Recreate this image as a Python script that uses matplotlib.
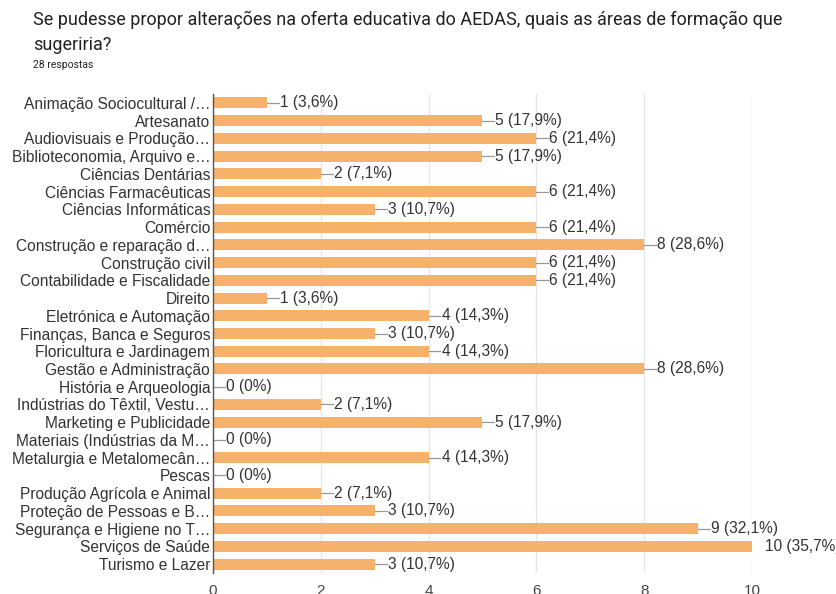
import matplotlib
matplotlib.use("Agg")
import matplotlib.pyplot as plt

categories = [
    "Animação Sociocultural /…", "Artesanato", "Audiovisuais e Produção…",
    "Biblioteconomia, Arquivo e…", "Ciências Dentárias", "Ciências Farmacêuticas",
    "Ciências Informáticas", "Comércio", "Construção e reparação d…",
    "Construção civil", "Contabilidade e Fiscalidade", "Direito",
    "Eletrónica e Automação", "Finanças, Banca e Seguros", "Floricultura e Jardinagem",
    "Gestão e Administração", "História e Arqueologia", "Indústrias do Têxtil, Vestu…",
    "Marketing e Publicidade", "Materiais (Indústrias da M…", "Metalurgia e Metalomecân…",
    "Pescas", "Produção Agrícola e Animal", "Proteção de Pessoas e B…",
    "Segurança e Higiene no T…", "Serviços de Saúde", "Turismo e Lazer",
]
values = [1, 5, 6, 5, 2, 6, 3, 6, 8, 6, 6, 1, 4, 3, 4, 8, 0, 2, 5, 0, 4, 0, 2, 3, 9, 10, 3]
percents = ["3,6%", "17,9%", "21,4%", "17,9%", "7,1%", "21,4%", "10,7%", "21,4%", "28,6%",
            "21,4%", "21,4%", "3,6%", "14,3%", "10,7%", "14,3%", "28,6%", "0%", "7,1%",
            "17,9%", "0%", "14,3%", "0%", "7,1%", "10,7%", "32,1%", "35,7%", "10,7%"]
xticks = [0, 2, 4, 6, 8, 10]

plt.rcParams['font.family'] = ['Liberation Sans', 'DejaVu Sans']

fig = plt.figure(figsize=(8.36, 5.94), dpi=100)
ax = fig.add_axes([0.2548, 0.0355, 0.6447, 0.8061])

bar_color = "#f6b26b"
text_color = "#333333"
y = list(range(len(categories)))
ax.barh(y, values, height=0.62, color=bar_color, zorder=2)
ax.set_ylim(len(categories) - 0.5, -0.5)
ax.set_xlim(0, 10)
ax.set_yticks(y)
ax.set_yticklabels(categories, fontsize=11.2, color=text_color)
ax.set_xticks(xticks)
ax.set_xticklabels([str(t) for t in xticks], fontsize=11, color="#444444")
ax.tick_params(axis='y', length=0, pad=2)
ax.tick_params(axis='x', length=0, pad=8)
ax.grid(axis='x', color="#e6e6e6", linewidth=1, zorder=0)
for s in ['top', 'right', 'bottom']:
    ax.spines[s].set_visible(False)
ax.spines['left'].set_color("#555555")
ax.spines['left'].set_linewidth(1)
ax.spines['left'].set_zorder(3)

for yi, v, p in zip(y, values, percents):
    if v < 10:
        ax.plot([v, v + 0.22], [yi, yi], color="#999999", linewidth=0.9, clip_on=False, zorder=3)
    ax.text(v + 0.24, yi, f"{v} ({p})", va='center', ha='left', fontsize=11.2,
            color=text_color, clip_on=False)

tfam = ['Roboto', 'DejaVu Sans']
fig.text(0.0395, 0.967, "Se pudesse propor alterações na oferta educativa do AEDAS, quais as áreas de formação que",
         fontsize=13, color="#202124", family=tfam, va='center')
fig.text(0.0395, 0.925, "sugeriria?", fontsize=13, color="#202124", family=tfam, va='center')
fig.text(0.0395, 0.891, "28 respostas", fontsize=7.5, color="#202124", family=tfam, va='center')

fig.savefig("out.png", dpi=100)
